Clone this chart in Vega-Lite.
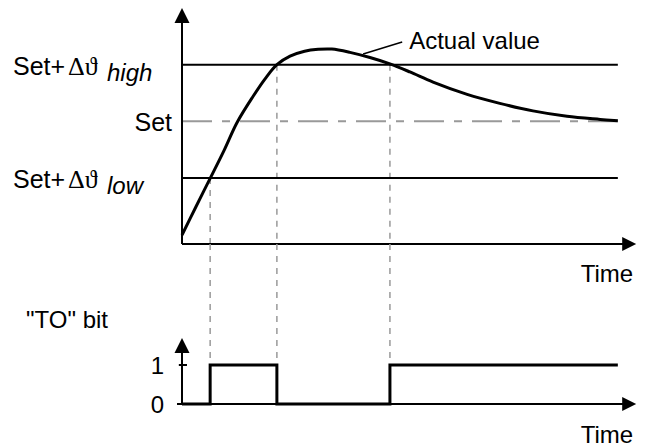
{
  "$schema": "https://vega.github.io/schema/vega-lite/v6.json",
  "padding": {"left": 13, "top": 8, "right": 0, "bottom": 0},
  "autosize": {"type": "pad"},
  "bounds": "flush",
  "spacing": 0,
  "config": {
    "view": {"stroke": null},
    "axis": {"disable": true},
    "text": {"font": "Liberation Sans", "fontSize": 24, "fill": "black"}
  },
  "vconcat": [
    {
      "width": 454,
      "height": 236,
      "encoding": {
        "x": {"field": "t", "type": "quantitative", "scale": {"domain": [0, 10], "nice": false, "zero": false}},
        "y": {"field": "v", "type": "quantitative", "scale": {"domain": [0, 100], "nice": false, "zero": false}}
      },
      "layer": [
        {
          "data": {"values": [{"t": 0, "v": 52, "t2": 9.6}]},
          "mark": {"type": "rule", "stroke": "#999999", "strokeWidth": 2, "strokeDash": [30, 10, 8, 10]},
          "encoding": {"x2": {"field": "t2"}}
        },
        {
          "data": {"values": [{"t": 0.62, "v": 28, "v2": 0}, {"t": 2.09, "v": 76, "v2": 0}, {"t": 4.58, "v": 76, "v2": 0}]},
          "mark": {"type": "rule", "stroke": "#999999", "strokeWidth": 1.5, "strokeDash": [6, 6]},
          "encoding": {"y2": {"field": "v2"}}
        },
        {
          "data": {"values": [{"t": 0, "v": 76, "t2": 9.6}, {"t": 0, "v": 28, "t2": 9.6}]},
          "mark": {"type": "rule", "stroke": "black", "strokeWidth": 2},
          "encoding": {"x2": {"field": "t2"}}
        },
        {
          "data": {"values": [
            {"t": 0, "v": 3.8}, {"t": 0.31, "v": 15.9}, {"t": 0.62, "v": 27.8}, {"t": 0.93, "v": 39.8},
            {"t": 1.21, "v": 51.4}, {"t": 1.56, "v": 62.4}, {"t": 1.83, "v": 70.0}, {"t": 2.09, "v": 76.0},
            {"t": 2.38, "v": 79.6}, {"t": 2.7, "v": 81.7}, {"t": 3.0, "v": 82.5}, {"t": 3.3, "v": 82.6},
            {"t": 3.7, "v": 81.2}, {"t": 4.14, "v": 79.0}, {"t": 4.58, "v": 76.3}, {"t": 5.02, "v": 72.9},
            {"t": 5.53, "v": 68.6}, {"t": 6.28, "v": 63.4}, {"t": 7.0, "v": 59.6}, {"t": 7.73, "v": 56.4},
            {"t": 8.48, "v": 54.1}, {"t": 9.21, "v": 52.8}, {"t": 9.6, "v": 52.2}
          ]},
          "mark": {"type": "line", "interpolate": "catmull-rom", "stroke": "black", "strokeWidth": 3},
          "encoding": {}
        },
        {
          "data": {"values": [{"t": 3.99, "v": 80.5, "t2": 4.85, "v2": 85.6}]},
          "mark": {"type": "rule", "stroke": "black", "strokeWidth": 1.5},
          "encoding": {"x2": {"field": "t2"}, "y2": {"field": "v2"}}
        },
        {
          "data": {"values": [{"t": 0, "v": 0, "t2": 0, "v2": 96.8}, {"t": 0, "v": 0, "t2": 9.85, "v2": 0}]},
          "mark": {"type": "rule", "stroke": "black", "strokeWidth": 2},
          "encoding": {"x2": {"field": "t2"}, "y2": {"field": "v2"}}
        },
        {
          "data": {"values": [{"t": 0, "v": 96.8}]},
          "mark": {"type": "point", "shape": "M0,-1L-1,1L1,1Z", "size": 225, "filled": true, "color": "black", "opacity": 1}
        },
        {
          "data": {"values": [{"t": 9.85, "v": 0}]},
          "mark": {"type": "point", "shape": "M1,0L-1,-1L-1,1Z", "size": 196, "filled": true, "color": "black", "opacity": 1}
        },
        {
          "data": {"values": [{"t": 0, "v": 76, "label": "Set+"}, {"t": 0, "v": 28, "label": "Set+"}]},
          "mark": {"type": "text", "align": "left", "dx": -169, "dy": 2, "fontSize": 25},
          "encoding": {"text": {"field": "label"}}
        },
        {
          "data": {"values": [{"t": 0, "v": 76, "label": "Δϑ"}, {"t": 0, "v": 28, "label": "Δϑ"}]},
          "mark": {"type": "text", "align": "left", "dx": -114, "dy": 2, "font": "Liberation Serif, DejaVu Serif", "fontSize": 26},
          "encoding": {"text": {"field": "label"}}
        },
        {
          "data": {"values": [{"t": 0, "v": 76, "label": "high"}, {"t": 0, "v": 28, "label": "low"}]},
          "mark": {"type": "text", "align": "left", "dx": -75, "dy": 9, "fontStyle": "italic"},
          "encoding": {"text": {"field": "label"}}
        },
        {
          "data": {"values": [{"t": 0, "v": 52, "label": "Set"}]},
          "mark": {"type": "text", "align": "right", "dx": -10, "dy": 2, "fontSize": 25},
          "encoding": {"text": {"field": "label"}}
        },
        {
          "data": {"values": [{"t": 4.85, "v": 85.6, "label": "Actual value"}]},
          "mark": {"type": "text", "align": "left", "dx": 7, "dy": 0},
          "encoding": {"text": {"field": "label"}}
        },
        {
          "data": {"values": [{"t": 9.85, "v": 0, "label": "Time"}]},
          "mark": {"type": "text", "align": "right", "dx": 4, "dy": 31},
          "encoding": {"text": {"field": "label"}}
        }
      ]
    },
    {
      "width": 454,
      "height": 160,
      "encoding": {
        "x": {"field": "t", "type": "quantitative", "scale": {"domain": [0, 10], "nice": false, "zero": false}},
        "y": {"field": "v", "type": "quantitative", "scale": {"domain": [0, 4.1], "nice": false, "zero": false}}
      },
      "layer": [
        {
          "data": {"values": [{"t": 0.62, "v": 4.1, "v2": 1}, {"t": 2.09, "v": 4.1, "v2": 1}, {"t": 4.58, "v": 4.1, "v2": 1}]},
          "mark": {"type": "rule", "stroke": "#999999", "strokeWidth": 1.5, "strokeDash": [6, 6]},
          "encoding": {"y2": {"field": "v2"}}
        },
        {
          "data": {"values": [{"t": 0, "v": 0, "t2": 0, "v2": 1.5}, {"t": -0.11, "v": 0, "t2": 9.85, "v2": 0}, {"t": -0.07, "v": 1, "t2": 0.11, "v2": 1}]},
          "mark": {"type": "rule", "stroke": "black", "strokeWidth": 2},
          "encoding": {"x2": {"field": "t2"}, "y2": {"field": "v2"}}
        },
        {
          "data": {"values": [{"t": 0, "v": 0}, {"t": 0.62, "v": 1}, {"t": 2.09, "v": 0}, {"t": 4.58, "v": 1}, {"t": 9.6, "v": 1}]},
          "mark": {"type": "line", "interpolate": "step-after", "stroke": "black", "strokeWidth": 3},
          "encoding": {}
        },
        {
          "data": {"values": [{"t": 0, "v": 1.5}]},
          "mark": {"type": "point", "shape": "M0,-1L-1,1L1,1Z", "size": 225, "filled": true, "color": "black", "opacity": 1}
        },
        {
          "data": {"values": [{"t": 9.85, "v": 0}]},
          "mark": {"type": "point", "shape": "M1,0L-1,-1L-1,1Z", "size": 196, "filled": true, "color": "black", "opacity": 1}
        },
        {
          "data": {"values": [{"t": 0, "v": 1, "label": "1"}, {"t": 0, "v": 0, "label": "0"}]},
          "mark": {"type": "text", "align": "right", "dx": -18, "dy": 2},
          "encoding": {"text": {"field": "label"}}
        },
        {
          "data": {"values": [{"t": 0, "v": 1, "label": "\"TO\" bit"}]},
          "mark": {"type": "text", "align": "right", "dx": -74, "dy": -44},
          "encoding": {"text": {"field": "label"}}
        },
        {
          "data": {"values": [{"t": 9.85, "v": 0, "label": "Time"}]},
          "mark": {"type": "text", "align": "right", "dx": 4, "dy": 32},
          "encoding": {"text": {"field": "label"}}
        }
      ]
    }
  ]
}
